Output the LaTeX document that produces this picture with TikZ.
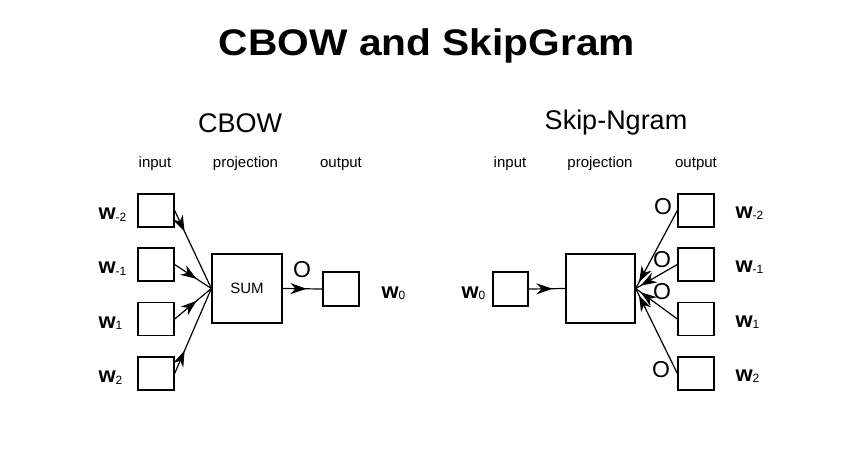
\documentclass[tikz,border=0pt]{standalone}
\usepackage{fontspec}
\usepackage{graphicx}
\setmainfont{Liberation Sans}
\usetikzlibrary{arrows.meta,decorations.markings}
\newcommand{\fsz}[1]{\fontsize{#1}{#1}\selectfont}
\newcommand{\wlab}[1]{{\fsz{22}\bfseries w}\raisebox{-1.5pt}{\fsz{12}#1}}
\begin{document}
\begin{tikzpicture}[x=1pt,y=-1pt,
  box/.style={draw,line width=1.3pt,minimum width=36pt,minimum height=33pt,inner sep=0pt},
  bigbox/.style={draw,line width=1.3pt,minimum width=69pt,minimum height=69pt,inner sep=0pt,font=\fsz{15}},
  conn/.style={line width=1.2pt},
  arrowat/.style={postaction={decorate},decoration={markings,mark=at position #1 with {\arrow{Stealth[length=16pt,width=11pt,inset=5pt]}}}},
  colhead/.style={font=\fsz{15}},
  subtitle/.style={font=\fsz{27}},
  olab/.style={font=\fsz{23}},
  wleft/.style={anchor=base west},
]
\fill[white] (0,0) rectangle (842,459);
\useasboundingbox (0,0) rectangle (842,459);

\node[font=\fsz{37}\bfseries] (title) at (427,46) {\scalebox{1.1}[1]{CBOW and SkipGram}};

% ---------------- CBOW ----------------
\node[subtitle] (cbowt) at (240,123) {CBOW};
\node[colhead] (h1) at (155,164) {input};
\node[colhead] (h2) at (245.5,164) {projection};
\node[colhead] (h3) at (341,164) {output};

\node[box] (in1) at (156,210.5) {};
\node[box] (in2) at (156,264.5) {};
\node[box] (in3) at (156,319) {};
\node[box] (in4) at (156,373.5) {};

\node[wleft] (lw1) at (95,219.5) {\wlab{-2}};
\node[wleft] (lw2) at (95,273.5) {\wlab{-1}};
\node[wleft] (lw3) at (95,328) {\wlab{1}};
\node[wleft] (lw4) at (95,382.5) {\wlab{2}};

\node[bigbox,minimum width=70pt] (sum) at (247,288.5) {SUM};
\node[box,minimum height=34pt] (out) at (341,289) {};
\node[olab] (o0) at (302,270) {O};
\node[wleft] (lw0) at (378,298) {\wlab{0}};

\draw[conn,arrowat=0.27] (in1.east) -- (sum.west);
\draw[conn,arrowat=0.6] (in2.east) -- (sum.west);
\draw[conn,arrowat=0.6] (in3.east) -- (sum.west);
\draw[conn,arrowat=0.27] (in4.east) -- (sum.west);
\draw[conn,arrowat=0.6] (sum.east) -- (out.west);

% ---------------- Skip-Ngram ----------------
\node[subtitle] (skipt) at (616,123) {Skip-Ngram};
\node[colhead] (k1) at (510,164) {input};
\node[colhead] (k2) at (600,164) {projection};
\node[colhead] (k3) at (696,164) {output};

\node[box,minimum width=35pt,minimum height=34pt] (win) at (510.5,289) {};
\node[wleft] (rw0) at (458,298) {\wlab{0}};
\node[bigbox] (proj) at (600.5,288.5) {};

\node[box] (o1) at (696,210.5) {};
\node[box] (o2) at (696,264.5) {};
\node[box] (o3) at (696,319) {};
\node[box] (o4) at (696,373.5) {};

\node[wleft] (rw1) at (732,218) {\wlab{-2}};
\node[wleft] (rw2) at (732,272) {\wlab{-1}};
\node[wleft] (rw3) at (732,327) {\wlab{1}};
\node[wleft] (rw4) at (732,381) {\wlab{2}};

\node[olab] (so1) at (663,207) {O};
\node[olab] (so2) at (662,260) {O};
\node[olab] (so3) at (662,292) {O};
\node[olab] (so4) at (661,370) {O};

\draw[conn,arrowat=0.65] (win.east) -- (proj.west);
\draw[conn,arrowat=0.92] (o1.west) -- (proj.east);
\draw[conn,arrowat=0.88] (o2.west) -- (proj.east);
\draw[conn,arrowat=0.88] (o3.west) -- (proj.east);
\draw[conn,arrowat=0.92] (o4.west) -- (proj.east);
\end{tikzpicture}
\end{document}
